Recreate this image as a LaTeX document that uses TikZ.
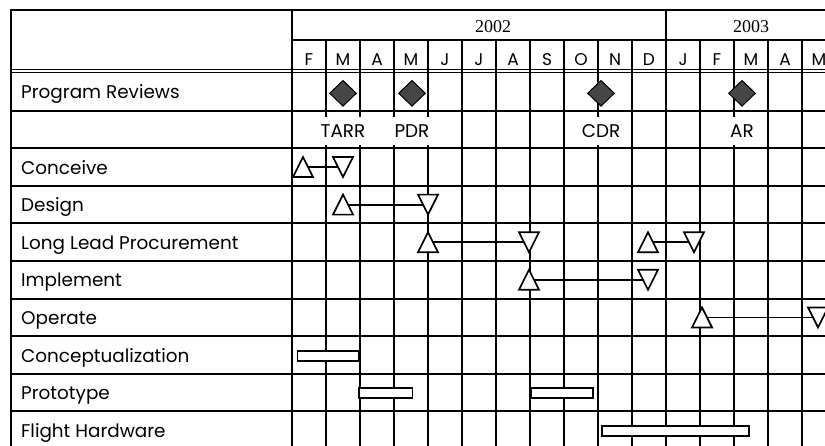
\documentclass[tikz,border=0pt]{standalone}
\usepackage{fontspec}
\setmainfont{Liberation Serif}
\newfontfamily\gfont{Poppins}
\usetikzlibrary{shapes.geometric}
\definecolor{revfill}{HTML}{474747}
\newcommand\myup[1]{\draw[tri] (#1) ++(-10,10) -- ++(20,0) -- ++(-10,-20) -- cycle;}
\newcommand\mydown[1]{\draw[tri] (#1) ++(-10,-10) -- ++(20,0) -- ++(-10,20) -- cycle;}
\begin{document}
\begin{tikzpicture}[x=1pt,y=-1pt,
  gridline/.style={line width=2pt},
  dbl/.style={line width=1.3pt},
  lbl/.style={anchor=base west, inner sep=0pt, font=\gfont\fontsize{18.4}{20}\selectfont},
  mon/.style={anchor=base, inner sep=0pt, font=\gfont\fontsize{17}{20}\selectfont},
  yr/.style={anchor=base, inner sep=0pt, font=\fontsize{18}{20}\selectfont},
  rev/.style={diamond, draw, line width=1pt, fill=revfill, minimum width=27pt, minimum height=26pt, inner sep=0pt},
  revlbl/.style={anchor=base, fill=white, inner xsep=2pt, inner ysep=0pt, text height=20pt, text depth=8pt, font=\gfont\fontsize{18.4}{20}\selectfont},
  tri/.style={draw, fill=white, line width=1.7pt, line join=miter},
  link/.style={line width=1.8pt},
  bar/.style={draw, fill=white, line width=1.7pt, inner sep=0pt, minimum height=10.1pt}
]
\useasboundingbox (0,0) rectangle (825,445);
\clip (0,0) rectangle (825,445);

% frame and header lines
\draw[gridline] (11,460) -- (11,10) -- (830,10);
\draw[gridline] (292,10) -- (292,460);
\draw[gridline] (292,40) -- (830,40);
\draw[gridline] (666,10) -- (666,460);
\draw[dbl] (11,69.6) -- (830,69.6);
\draw[dbl] (11,72.6) -- (830,72.6);
\foreach \yy in {110.6,148.2,185.8,223.4,261,298.6,336.2,373.8,411.4}
  \draw[gridline] (11,\yy) -- (830,\yy);
\foreach \k in {0,...,14}
  \draw[gridline] (326+34*\k,40) -- (326+34*\k,460);

% years
\node[yr] (y2002) at (493,32) {2002};
\node[yr] (y2003) at (751,32) {2003};

% months
\foreach \m [count=\i from 0] in {F,M,A,M,J,J,A,S,O,N,D,J,F,M,A,M}
  \node[mon] (m\i) at (309+34*\i,65) {\m};

% row labels
\node[lbl] (rPR) at (21,98.8) {Program Reviews};
\node[lbl] (rCo) at (21,174) {Conceive};
\node[lbl] (rDe) at (21,211.6) {Design};
\node[lbl] (rLL) at (21,249.2) {Long Lead Procurement};
\node[lbl] (rIm) at (21,286.8) {Implement};
\node[lbl] (rOp) at (21,324.4) {Operate};
\node[lbl] (rCz) at (21,362) {Conceptualization};
\node[lbl] (rPt) at (21,399.6) {Prototype};
\node[lbl] (rFH) at (21,437.2) {Flight Hardware};

% program reviews
\node[rev] (dTARR) at (343,93.3) {};
\node[rev] (dPDR) at (412,93.3) {};
\node[rev] (dCDR) at (601,93.3) {};
\node[rev] (dAR) at (742,93.3) {};
\node[revlbl] (tTARR) at (343,137.3) {TARR};
\node[revlbl] (tPDR) at (412,137.3) {PDR};
\node[revlbl] (tCDR) at (601,137.3) {CDR};
\node[revlbl] (tAR) at (742,137.3) {AR};

% milestones
\coordinate (co1) at (303,167);   \coordinate (co2) at (343,167);
\coordinate (de1) at (343,204.6); \coordinate (de2) at (428,204.6);
\coordinate (ll1) at (428,242.2); \coordinate (ll2) at (529,242.2);
\coordinate (ll3) at (648,242.2); \coordinate (ll4) at (694,242.2);
\coordinate (im1) at (529,279.8); \coordinate (im2) at (648,279.8);
\coordinate (op1) at (702,317.4); \coordinate (op2) at (818,317.4);

\draw[link] (co1) -- (co2);
\draw[link] (de1) -- (de2);
\draw[link] (ll1) -- (ll2);
\draw[link] (ll3) -- (ll4);
\draw[link] (im1) -- (im2);
\draw[link] (op1) -- (op2);

\myup{co1} \mydown{co2}
\myup{de1} \mydown{de2}
\myup{ll1} \mydown{ll2}
\myup{ll3} \mydown{ll4}
\myup{im1} \mydown{im2}
\myup{op1} \mydown{op2}

% bars
\node[bar, minimum width=61pt] (bCz) at (328,355.9) {};
\node[bar, minimum width=53.4pt] (bPt1) at (385.8,393.2) {};
\node[bar, minimum width=62.4pt] (bPt2) at (562,393.2) {};
\node[bar, minimum width=147.4pt] (bFH) at (675.5,430.9) {};
\end{tikzpicture}
\end{document}
